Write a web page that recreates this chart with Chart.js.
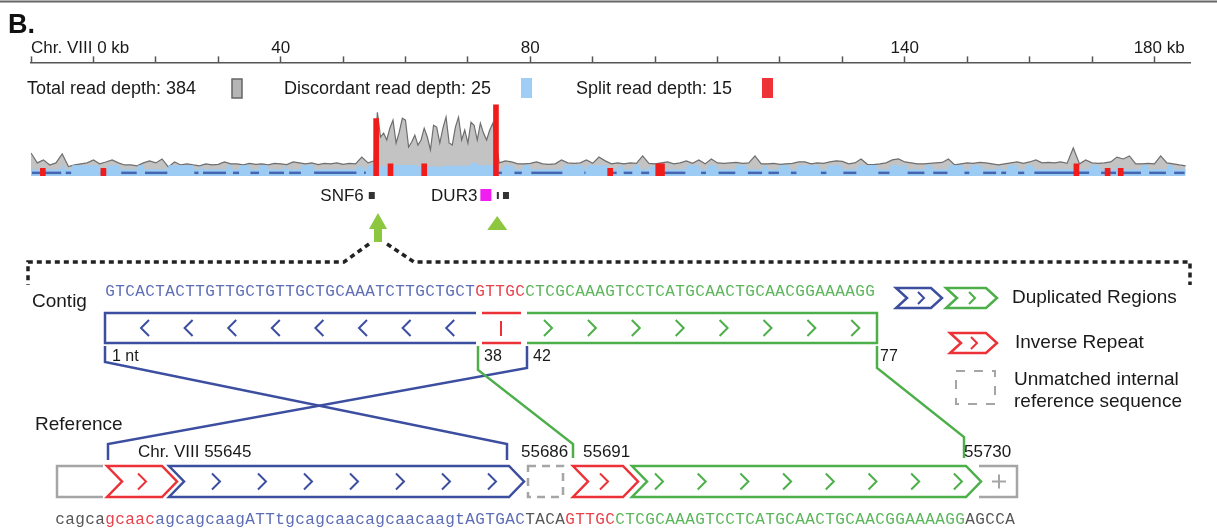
<!DOCTYPE html>
<html>
<head>
<meta charset="utf-8">
<script src="https://cdn.jsdelivr.net/npm/chart.js@4.4.1/dist/chart.umd.min.js"></script>
<style>
  body { margin: 0; background: #fff; }
  #wrap { width: 1217px; height: 531px; }
</style>
</head>
<body>
<div id="wrap"><canvas id="chart" width="1217" height="531"></canvas></div>
<script>
// ---- read depth track along Chr. VIII (kb) ----
const axisTicksKb = [0, 10, 20, 30, 40, 50, 60, 70, 80, 90, 100, 110, 120, 130, 140, 150, 160, 170, 180];
const tickLabelKb = [0, 40, 80, 140, 180];
const tickLabelText = ['Chr. VIII 0 kb', '40', '80', '140', '  180 kb'];

// total read depth, kb 0..55 (1 kb bins)
const depthLeft = [126, 63, 82, 50, 63, 120, 40, 50, 57, 63,
                   82, 57, 69, 82, 63, 50, 50, 44, 63, 76,
                   63, 88, 38, 69, 50, 57, 50, 44, 57, 50,
                   54, 69, 57, 57, 50, 60, 54, 57, 50, 60,
                   57, 52, 69, 63, 57, 63, 52, 60, 57, 63,
                   54, 60, 57, 100, 63, 76];
// total read depth, kb 55.5..74.5 (0.5 kb bins, duplicated region)
const depthDup = [384, 227, 252, 208, 283, 334, 189, 258, 346, 334,
                  164, 195, 239, 176, 208, 283, 227, 145, 302, 290,
                  189, 283, 353, 189, 176, 290, 353, 208, 271, 189,
                  321, 302, 208, 315, 252, 208, 271, 315, 208];
// total read depth, kb 75..185 (1 kb bins)
const depthRight = [63, 76, 69, 57, 57, 60, 69, 57, 54, 57, 82, 63, 60, 63, 82, 60, 100, 76,
                    57, 63, 57, 63, 60, 107, 60, 57, 63, 69,
                    57, 63, 76, 60, 82, 57, 88, 63, 60, 63,
                    66, 60, 63, 107, 57, 57, 60, 54, 57, 60,
                    69, 69, 57, 63, 60, 69, 76, 73, 57, 63,
                    88, 54, 52, 57, 63, 82, 88,
                    69, 63, 57, 57, 60, 63, 66, 88, 50, 57,
                    63, 60, 66, 63, 57, 50, 57, 63, 69, 60,
                    69, 82, 63, 66, 63, 69, 60, 158, 57, 82,
                    63, 60, 63, 69, 100, 88, 107, 57, 57, 60,
                    57, 107, 63, 57, 50, 44];

// discordant read depth: raised stretches, background elsewhere
const discBackground = 9;
const discStart = [5, 6.6, 12.2, 17.1, 22, 27, 31.4, 33.5, 36.7, 40.7, 43.4, 52.3, 53.8,
                   55.6, 58, 62, 66, 70.4, 71.6,
                   75.6, 78.8, 85.3, 89, 94, 96.5, 99.2, 105, 108.3, 113, 117.3, 120, 122.8, 127.6, 132.4, 137.7,
                   139.5, 143.3, 147, 150.5, 154.8, 156.4, 159.3, 169.7, 174, 178, 182];
const discEnd = [5.4, 11, 14.3, 18.1, 26, 27.4, 32.2, 35, 38, 41.2, 45.2, 53.2, 55.1,
                 58, 62, 66, 70.4, 71.6, 74.7,
                 77.3, 80, 88.5, 92.3, 94.8, 97.6, 100, 107.2, 110, 114.7, 118, 121.6, 126.4, 130, 135.6, 139.3,
                 140.3, 144.4, 149.4, 152.4, 155.3, 158, 160.6, 171.3, 174.5, 179, 183];
const discDepth = [19, 19, 19, 19, 19, 17, 19, 19, 19, 17, 19, 17, 19,
                   17, 20, 16, 18, 25, 19,
                   19, 19, 19, 19, 17, 19, 17, 19, 19, 19, 17, 19, 19, 19, 19, 19,
                   19, 19, 19, 19, 17, 19, 19, 19, 17, 19, 19];

// split read depth
const splitKb = [1.9, 11.6, 55.3, 57.6, 63.0, 74.5, 92.8, 100.5, 101.1, 167.5, 172.5, 174.6];
const splitDepth = [1, 1, 12, 2, 2, 15, 1, 2, 2, 2, 1, 1];

const geneNames = ['SNF6', 'DUR3', '', ''];
const geneKb = [54.6, 72.8, 74.8, 76.1];
const breakpointKb = [55.6, 74.7];

// ---- contig vs reference ----
const contigParts = ['GTCACTACTTGTTGCTGTTGCTGCAAATCTTGCTGCT', 'GTTGC', 'CTCGCAAAGTCCTCATGCAACTGCAACGGAAAAGG'];
const refParts = ['cagca', 'gcaac', 'agcagcaagATTtgcagcaacagcaacaagtAGTGAC', 'TACA', 'GTTGC',
                  'CTCGCAAAGTCCTCATGCAACTGCAACGGAAAAGG', 'AGCCA'];
const contigLabels = ['1 nt', '38', '42', '77'];
const refLabels = ['Chr. VIII 55645', '55686', '55691', '55730'];

const BLUE = '#3c4ea0', BLUE_TXT = '#5d6db5';
const RED = '#ec3237', RED_TXT = '#e8414b';
const GREEN = '#4daf4a', GREEN_TXT = '#5ab55a';
const GRAY = '#a5a5a5', GRAY_TXT = '#555';
const SANS = '"Liberation Sans", Arial, sans-serif';
const MONO = '"Liberation Mono", "Courier New", monospace';

const depthPoints = [];
depthLeft.forEach((v, i) => depthPoints.push({x: i, y: v}));
depthDup.forEach((v, i) => depthPoints.push({x: 55.5 + i * 0.5, y: v}));
depthRight.forEach((v, i) => depthPoints.push({x: 75 + i, y: v}));

const discPoints = [{x: 0, y: discBackground}];
discStart.forEach((s, i) => {
    discPoints.push({x: s, y: discDepth[i]});
    discPoints.push({x: discEnd[i], y: discBackground});
});
discPoints.push({x: 185, y: discBackground});

const splitPoints = splitKb.map((k, i) => ({x: k, y: [-0.7, splitDepth[i]]}));

function poly(ctx, color, pts, width) {
    ctx.strokeStyle = color;
    ctx.lineWidth = width || 2.5;
    ctx.beginPath();
    ctx.moveTo(pts[0][0], pts[0][1]);
    for (let i = 1; i < pts.length; i++) ctx.lineTo(pts[i][0], pts[i][1]);
    ctx.stroke();
}

function chevron(ctx, color, x0, x1, y0, y1, p) {
    const ym = (y0 + y1) / 2;
    ctx.strokeStyle = color;
    ctx.lineWidth = 2.5;
    ctx.lineJoin = 'miter';
    ctx.beginPath();
    ctx.moveTo(x0, y0);
    ctx.lineTo(x1 - p, y0);
    ctx.lineTo(x1, ym);
    ctx.lineTo(x1 - p, y1);
    ctx.lineTo(x0, y1);
    ctx.lineTo(x0 + p, ym);
    ctx.closePath();
    ctx.stroke();
}

function mark(ctx, color, x, y, dir, w, h) {
    poly(ctx, color, [[x - dir * w / 2, y - h / 2], [x + dir * w / 2, y], [x - dir * w / 2, y + h / 2]], 2);
}

function text(ctx, str, x, y, size, color, align) {
    ctx.font = size + 'px ' + SANS;
    ctx.fillStyle = color || '#1a1a1a';
    ctx.textAlign = align || 'left';
    ctx.textBaseline = 'middle';
    ctx.fillText(str, x, y);
}

function seqText(ctx, px, parts, colors, start, y) {
    ctx.font = '16px ' + MONO;
    ctx.textAlign = 'center';
    ctx.textBaseline = 'middle';
    let i = start;
    parts.forEach((s, k) => {
        ctx.fillStyle = colors[k];
        for (const ch of s) {
            ctx.fillText(ch, px(i + 0.5), y);
            i++;
        }
    });
}

function drawTop(chart) {
    const ctx = chart.ctx;
    const kb = chart.scales.x;

    poly(ctx, '#666', [[0, 1.5], [1217, 1.5]], 2);
    ctx.font = 'bold 27px ' + SANS;
    ctx.fillStyle = '#111';
    ctx.textAlign = 'left';
    ctx.textBaseline = 'alphabetic';
    ctx.fillText('B.', 8, 33);

    // legend row
    text(ctx, 'Total read depth: ' + Math.max(...depthDup), 27, 89, 18);
    ctx.fillStyle = '#b5b5b5';
    ctx.fillRect(232, 79, 10, 19);
    ctx.strokeStyle = '#666';
    ctx.lineWidth = 1.5;
    ctx.strokeRect(232, 79, 10, 19);
    text(ctx, 'Discordant read depth: ' + Math.max(...discDepth), 284, 89, 18);
    ctx.fillStyle = '#9fcdf5';
    ctx.fillRect(521, 78, 11, 20);
    text(ctx, 'Split read depth: ' + Math.max(...splitDepth), 576, 89, 18);
    ctx.fillStyle = '#ee3338';
    ctx.fillRect(762, 78, 11, 20);

    // genes
    geneKb.forEach((g, i) => {
        const x = kb.getPixelForValue(g);
        if (i === 1) {
            ctx.fillStyle = '#f01ef0';
            ctx.fillRect(x - 5, 189, 11, 12);
        } else if (i === 2) {
            ctx.fillStyle = '#333';
            ctx.fillRect(x - 1, 192, 2, 7);
        } else {
            ctx.fillStyle = '#333';
            ctx.fillRect(x - 3, 192, 6, 7);
        }
        if (geneNames[i]) text(ctx, geneNames[i], x - 8, 196, 17, '#1a1a1a', 'right');
    });

    // breakpoint arrows
    ctx.fillStyle = '#8dc63f';
    breakpointKb.forEach((b, i) => {
        const x = kb.getPixelForValue(b);
        ctx.beginPath();
        if (i === 0) {
            ctx.moveTo(x, 213);
            ctx.lineTo(x + 9, 229);
            ctx.lineTo(x - 9, 229);
            ctx.closePath();
            ctx.fill();
            ctx.fillRect(x - 4, 228, 8, 14);
        } else {
            ctx.moveTo(x, 216);
            ctx.lineTo(x + 10, 230);
            ctx.lineTo(x - 10, 230);
            ctx.closePath();
            ctx.fill();
        }
    });

    // dotted zoom lines
    const xb = kb.getPixelForValue(breakpointKb[0]);
    ctx.save();
    ctx.setLineDash([5, 4]);
    poly(ctx, '#222', [[xb - 9, 244], [xb - 34, 262], [28, 262], [28, 285]], 3.5);
    poly(ctx, '#222', [[xb + 9, 244], [xb + 36, 262], [1190, 262], [1190, 285]], 3.5);
    ctx.restore();
}

function drawAlignment(chart) {
    const ctx = chart.ctx;
    const seq = chart.scales.seq;
    const px = c => seq.getPixelForValue(c);

    // contig
    text(ctx, 'Contig', 32, 302, 19);
    seqText(ctx, px, contigParts, [BLUE_TXT, RED_TXT, GREEN_TXT], 5, 292);
    const y0 = 313, y1 = 343, ym = 328;
    poly(ctx, BLUE, [[px(42.1), y0], [px(5), y0], [px(5), y1], [px(42.1), y1]]);
    poly(ctx, RED, [[px(42.7), y0], [px(46.6), y0]]);
    poly(ctx, RED, [[px(42.7), y1], [px(46.6), y1]]);
    poly(ctx, RED, [[px(44.6), 321], [px(44.6), 336]], 2);
    poly(ctx, GREEN, [[px(47.2), y0], [px(82.2), y0], [px(82.2), y1], [px(47.2), y1]]);
    for (let k = 0; k < 8; k++) mark(ctx, BLUE, px(9 + k * 4.36), ym, -1, 8, 16);
    for (let k = 0; k < 8; k++) mark(ctx, GREEN, px(49.3 + k * 4.39), ym, 1, 8, 16);

    text(ctx, contigLabels[0], px(5.7), 357, 16);
    text(ctx, contigLabels[1], px(42.9), 357, 16);
    text(ctx, contigLabels[2], px(47.8), 357, 16);
    text(ctx, contigLabels[3], px(82.5), 357, 16);

    // contig -> reference connectors
    poly(ctx, BLUE, [[px(5), 346], [px(5), 362], [px(45.2), 444], [px(45.2), 460]]);
    poly(ctx, BLUE, [[px(47.2), 346], [px(47.2), 368], [px(5.3), 444], [px(5.3), 460]]);
    poly(ctx, GREEN, [[px(42.3), 346], [px(42.3), 370], [px(51.8), 444], [px(51.8), 458]]);
    poly(ctx, GREEN, [[px(82.2), 346], [px(82.2), 368], [px(90.9), 437], [px(90.9), 458]]);

    // reference
    text(ctx, 'Reference', 35, 425, 19);
    text(ctx, refLabels[0], px(8.3), 452, 17);
    text(ctx, refLabels[1], px(46.6), 452, 17);
    text(ctx, refLabels[2], px(52.8), 452, 17);
    text(ctx, refLabels[3], px(90.9), 452, 17);

    const r0 = 466, r1 = 497, rm = 481.5;
    poly(ctx, GRAY, [[px(4.8), r0], [px(0.2), r0], [px(0.2), r1], [px(4.8), r1]]);
    chevron(ctx, RED, px(5.2), px(12.2), r0, r1, 15);
    mark(ctx, RED, px(8.7), rm, 1, 8, 16);
    chevron(ctx, BLUE, px(11.4), px(46.9), r0, r1, 15);
    for (let k = 0; k < 7; k++) mark(ctx, BLUE, px(16.1 + k * 4.6), rm, 1, 8, 16);
    ctx.save();
    ctx.setLineDash([8, 6]);
    ctx.strokeStyle = GRAY;
    ctx.lineWidth = 2.5;
    ctx.strokeRect(px(47.3), r0, px(50.8) - px(47.3), r1 - r0);
    ctx.restore();
    chevron(ctx, RED, px(51.8), px(58.3), r0, r1, 15);
    mark(ctx, RED, px(54.9), rm, 1, 8, 16);
    chevron(ctx, GREEN, px(57.7), px(92.6), r0, r1, 15);
    for (let k = 0; k < 8; k++) mark(ctx, GREEN, px(60.4 + k * 4.27), rm, 1, 8, 16);
    poly(ctx, GRAY, [[px(92.4), r0], [px(96.2), r0], [px(96.2), r1], [px(92.4), r1]]);
    poly(ctx, GRAY, [[px(94.4) - 7, rm], [px(94.4) + 7, rm]], 2);
    poly(ctx, GRAY, [[px(94.4), rm - 7], [px(94.4), rm + 7]], 2);

    seqText(ctx, px, refParts, [GRAY_TXT, RED_TXT, BLUE_TXT, GRAY_TXT, RED_TXT, GREEN_TXT, GRAY_TXT], 0, 520);

    // key
    chevron(ctx, BLUE, 896, 942, 288, 308, 11);
    mark(ctx, BLUE, 921, 298, 1, 6, 12);
    chevron(ctx, GREEN, 946, 997, 288, 308, 11);
    mark(ctx, GREEN, 972, 298, 1, 6, 12);
    text(ctx, 'Duplicated Regions', 1012, 298, 19);
    chevron(ctx, RED, 950, 997, 333, 353, 11);
    mark(ctx, RED, 974, 343, 1, 6, 12);
    text(ctx, 'Inverse Repeat', 1015, 343, 19);
    ctx.save();
    ctx.setLineDash([9, 9]);
    ctx.strokeStyle = GRAY;
    ctx.lineWidth = 2;
    ctx.strokeRect(956, 371, 39, 33);
    ctx.restore();
    text(ctx, 'Unmatched internal', 1014, 380, 19);
    text(ctx, 'reference sequence', 1014, 402, 19);
}

const diagramPlugin = {
    id: 'diagram',
    afterDatasetDraw(chart, args) {
        if (args.index !== 1) return;
        // dark baseline where the discordant depth is at background level
        const ctx = chart.ctx;
        const kb = chart.scales.x;
        const y = chart.scales.yD.getPixelForValue(0);
        ctx.save();
        for (let i = 0; i <= discStart.length; i++) {
            const a = i === 0 ? 0 : discEnd[i - 1];
            const b = i === discStart.length ? 185 : discStart[i];
            if (b - a > 0.2) poly(ctx, '#4567b1', [[kb.getPixelForValue(a) + 1, y], [kb.getPixelForValue(b) - 1, y]], 2.5);
        }
        ctx.restore();
    },
    afterDraw(chart) {
        drawTop(chart);
        drawAlignment(chart);
    }
};

const ctx = document.getElementById('chart').getContext('2d');
new Chart(ctx, {
    type: 'line',
    data: {
        datasets: [{
            type: 'bar',
            label: 'Split read depth',
            data: splitPoints,
            yAxisID: 'yS',
            backgroundColor: '#f01c1c',
            barThickness: 5
        }, {
            label: 'Discordant read depth',
            data: discPoints,
            yAxisID: 'yD',
            stepped: true,
            fill: 'start',
            backgroundColor: '#9ccbf4',
            borderWidth: 0,
            pointRadius: 0
        }, {
            label: 'Total read depth',
            data: depthPoints,
            yAxisID: 'yT',
            fill: 'origin',
            backgroundColor: '#c3c3c3',
            borderColor: '#6e6e6e',
            borderWidth: 1.2,
            pointRadius: 0,
            tension: 0
        }]
    },
    options: {
        responsive: false,
        animation: false,
        devicePixelRatio: 1,
        layout: { padding: { left: 31, right: 27, top: 40, bottom: 355 } },
        plugins: { legend: { display: false }, tooltip: { enabled: false } },
        scales: {
            x: {
                type: 'linear',
                position: 'top',
                min: 0,
                max: 185.7,
                offset: false,
                afterBuildTicks: s => { s.ticks = axisTicksKb.concat([s.max]).map(v => ({value: v})); },
                grid: {
                    offset: false,
                    drawOnChartArea: false,
                    tickLength: 6,
                    tickWidth: 1.5,
                    tickColor: c => (c.tick && c.tick.value > 180 ? 'rgba(0,0,0,0)' : '#555')
                },
                border: { color: '#555', width: 1.5 },
                ticks: {
                    autoSkip: false,
                    maxRotation: 0,
                    align: 'inner',
                    padding: -2,
                    color: '#1a1a1a',
                    font: { family: SANS, size: 17 },
                    callback: v => {
                        const i = tickLabelKb.indexOf(v);
                        return i < 0 ? '' : tickLabelText[i];
                    }
                }
            },
            seq: { type: 'linear', axis: 'x', display: false, min: -2.4, max: 113.5 },
            yT: { type: 'linear', display: false, min: -20, max: 700 },
            yD: { type: 'linear', display: false, min: -8, max: 280 },
            yS: { type: 'linear', display: false, min: -0.7, max: 24.4 }
        }
    },
    plugins: [diagramPlugin]
});
</script>
</body>
</html>
